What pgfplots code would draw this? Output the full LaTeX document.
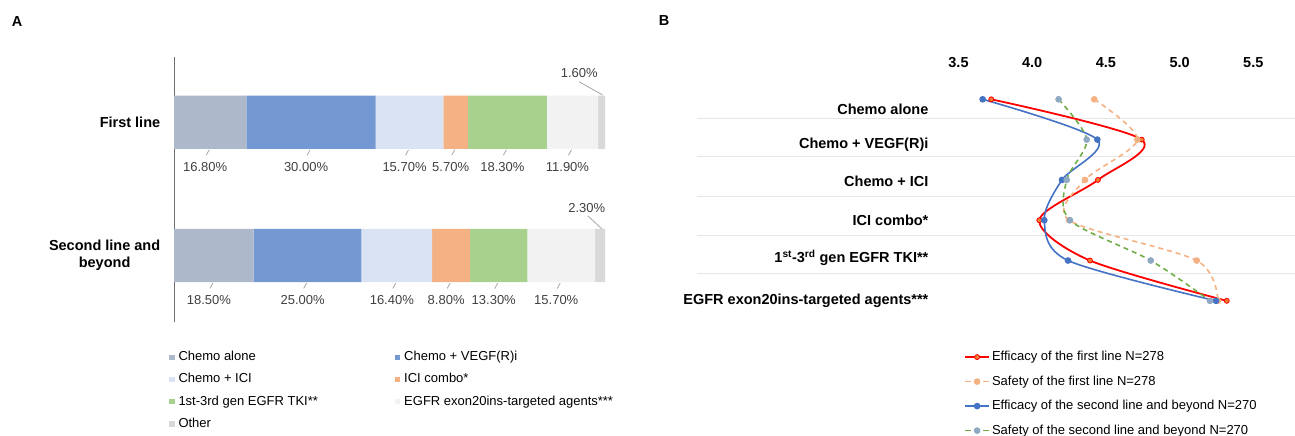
\documentclass[border=0pt]{standalone}
\usepackage{pgfplots}
\pgfplotsset{compat=1.18}
\usepackage{fontspec}
\setmainfont{Liberation Sans}
\definecolor{cA}{HTML}{ADB9CA}
\definecolor{cB}{HTML}{7498D2}
\definecolor{cC}{HTML}{DAE3F3}
\definecolor{cD}{HTML}{F4B183}
\definecolor{cE}{HTML}{A9D18E}
\definecolor{cF}{HTML}{F2F2F2}
\definecolor{cG}{HTML}{D9D9D9}
\definecolor{lred}{HTML}{FF0000}
\definecolor{lredm}{HTML}{ED7D31}
\definecolor{lorange}{HTML}{F4B183}
\definecolor{lblue}{HTML}{4472C4}
\definecolor{lgreen}{HTML}{70AD47}
\definecolor{lgreenm}{HTML}{8EA9C1}
\definecolor{gridc}{HTML}{E6E6E6}
\definecolor{labc}{HTML}{404040}
\definecolor{leadc}{HTML}{A6A6A6}
\definecolor{axc}{HTML}{6E6E6E}
\newcommand\bfs{\bfseries\fontsize{14.5}{17}\selectfont}
\newcommand\rgs{\fontsize{13}{15.5}\selectfont}
\newcommand\plab[3]{%
  \draw[leadc, line width=0.8pt] ([xshift=-1pt,yshift=-27.5pt]axis cs:#1,#2) -- ([xshift=-4pt,yshift=-33pt]axis cs:#1,#2);
  \node[font=\rgs, text=labc] at ([xshift=-5pt,yshift=-45pt]axis cs:#1,#2) {#3};}

\begin{document}
\begin{tikzpicture}
\useasboundingbox (0,0) rectangle (1295pt,-436pt);
\node[font=\bfs] at (17pt,-22pt) {A};
\node[font=\bfs] at (664pt,-21pt) {B};

% ---------------- Panel A ----------------
\begin{axis}[at={(174pt,-57pt)}, anchor=north west, scale only axis,
  width=431pt, height=265pt,
  xbar stacked, bar width=53.3pt,
  xmin=0, xmax=100, ymin=-0.499, ymax=1.49, hide axis, clip=false,
  legend columns=2, legend cell align=left,
  legend style={draw=none, fill=none, inner sep=0pt,
    at={(axis description cs:-0.0116,-0.1072)}, anchor=north west,
    font=\rgs, row sep=9.3pt,
    nodes={inner xsep=4pt, inner ysep=0pt, text height=10pt, text depth=3pt},
    /tikz/column 2/.style={column sep=73pt}},
  legend image code/.code={\fill[#1] (0pt,-2.6pt) rectangle (5.3pt,2.6pt);},
]
\addplot[fill=cA, draw=none] coordinates {(16.8,1) (18.5,0)};
\addplot[fill=cB, draw=none] coordinates {(30.0,1) (25.0,0)};
\addplot[fill=cC, draw=none] coordinates {(15.7,1) (16.4,0)};
\addplot[fill=cD, draw=none] coordinates {(5.7,1) (8.8,0)};
\addplot[fill=cE, draw=none] coordinates {(18.3,1) (13.3,0)};
\addplot[fill=cF, draw=none] coordinates {(11.9,1) (15.7,0)};
\addplot[fill=cG, draw=none] coordinates {(1.6,1) (2.3,0)};
\legend{Chemo alone, Chemo + VEGF(R)i, Chemo + ICI, ICI combo*, 1st-3rd gen EGFR TKI**, EGFR exon20ins-targeted agents***, Other}
\draw[axc, line width=1pt] (axis cs:0,-0.499) -- (axis cs:0,1.49);
\node[font=\bfs, anchor=east, inner sep=0pt] at ([xshift=-13.6pt]axis cs:0,1) {First line};
\node[font=\bfs, anchor=east, inner sep=0pt, align=center] at ([xshift=-13.6pt]axis cs:0,0) {Second line and\\beyond};
\plab{8.4}{1}{16.80\%}
\plab{31.8}{1}{30.00\%}
\plab{54.65}{1}{15.70\%}
\plab{65.35}{1}{5.70\%}
\plab{77.35}{1}{18.30\%}
\plab{92.45}{1}{11.90\%}
\plab{9.25}{0}{18.50\%}
\plab{31.0}{0}{25.00\%}
\plab{51.7}{0}{16.40\%}
\plab{64.3}{0}{8.80\%}
\plab{75.35}{0}{13.30\%}
\plab{89.85}{0}{15.70\%}
\draw[leadc, line width=0.8pt] ([xshift=-22.6pt,yshift=40.6pt]axis cs:99.2,1) -- ([xshift=1pt,yshift=27.3pt]axis cs:99.2,1);
\node[font=\rgs, text=labc] at ([xshift=-22.3pt,yshift=49pt]axis cs:99.2,1) {1.60\%};
\draw[leadc, line width=0.8pt] ([xshift=-12pt,yshift=39.5pt]axis cs:98.85,0) -- ([xshift=2pt,yshift=26.5pt]axis cs:98.85,0);
\node[font=\rgs, text=labc] at ([xshift=-13.3pt,yshift=47.8pt]axis cs:98.85,0) {2.30\%};
\end{axis}

% ---------------- Panel B ----------------
\begin{axis}[at={(697pt,-75pt)}, anchor=north west, scale only axis,
  width=598pt, height=245pt,
  xmin=1.726, xmax=5.783, ymin=-0.476, ymax=5.603,
  axis line style={draw=none}, major tick length=0pt,
  xtick={3.5,4,4.5,5,5.5}, xticklabel pos=upper,
  /pgf/number format/assume math mode=true,
  xticklabel style={font=\bfs, yshift=4pt, /pgf/number format/.cd, fixed, fixed zerofill, precision=1},
  ytick={0.682,1.615,2.588,3.593,4.529}, yticklabels={},
  ymajorgrids, grid style={gridc, line width=1pt},
  clip=false,
  legend cell align=left,
  legend style={draw=none, fill=none, inner sep=0pt,
    at={(axis description cs:0.4465,-0.1241)}, anchor=north west,
    font=\rgs, row sep=11.5pt,
    nodes={inner xsep=2pt, inner ysep=0pt, text height=10pt, text depth=3pt}},
  legend image code/.code={\draw[mark repeat=2,mark phase=2,#1] plot coordinates {(0pt,0pt) (12pt,0pt) (24pt,0pt)};},
  every axis plot/.append style={smooth, tension=0.5},
]
\addplot[lred, line width=1.8pt, mark=*, mark size=2.5pt, mark options={solid, fill=lredm, draw=lred, line width=0.8pt}]
  coordinates {(3.722,5) (4.743,4) (4.446,3) (4.048,2) (4.392,1) (5.320,0)};
\addplot[lorange, line width=1.6pt, dash pattern=on 5pt off 4pt, mark=*, mark size=2.5pt, mark options={solid, fill=lorange, draw=lorange}]
  coordinates {(4.421,5) (4.713,4) (4.358,3) (4.250,2) (5.116,1) (5.260,0)};
\addplot[lblue, line width=1.6pt, mark=*, mark size=2.5pt, mark options={solid, fill=lblue, draw=lblue}]
  coordinates {(3.664,5) (4.442,4) (4.202,3) (4.082,2) (4.243,1) (5.247,0)};
\addplot[lgreen, line width=1.6pt, dash pattern=on 5pt off 4pt, mark=*, mark size=2.5pt, mark options={solid, fill=lgreenm, draw=lgreenm}]
  coordinates {(4.179,5) (4.370,4) (4.234,3) (4.256,2) (4.804,1) (5.206,0)};
\legend{Efficacy of the first line N=278, Safety of the first line N=278, Efficacy of the second line and beyond N=270, Safety of the second line and beyond N=270}
\node[font=\bfs, anchor=east, inner sep=0pt] at (axis cs:3.297,4.76) {Chemo alone};
\node[font=\bfs, anchor=east, inner sep=0pt] at (axis cs:3.297,3.87) {Chemo + VEGF(R)i};
\node[font=\bfs, anchor=east, inner sep=0pt] at (axis cs:3.297,2.97) {Chemo + ICI};
\node[font=\bfs, anchor=east, inner sep=0pt] at (axis cs:3.297,2.0) {ICI combo*};
\node[font=\bfs, anchor=east, inner sep=0pt] at (axis cs:3.297,1.06) {1\textsuperscript{st}-3\textsuperscript{rd} gen EGFR TKI**};
\node[font=\bfs, anchor=east, inner sep=0pt] at (axis cs:3.297,0.0) {EGFR exon20ins-targeted agents***};
\end{axis}
\end{tikzpicture}
\end{document}
